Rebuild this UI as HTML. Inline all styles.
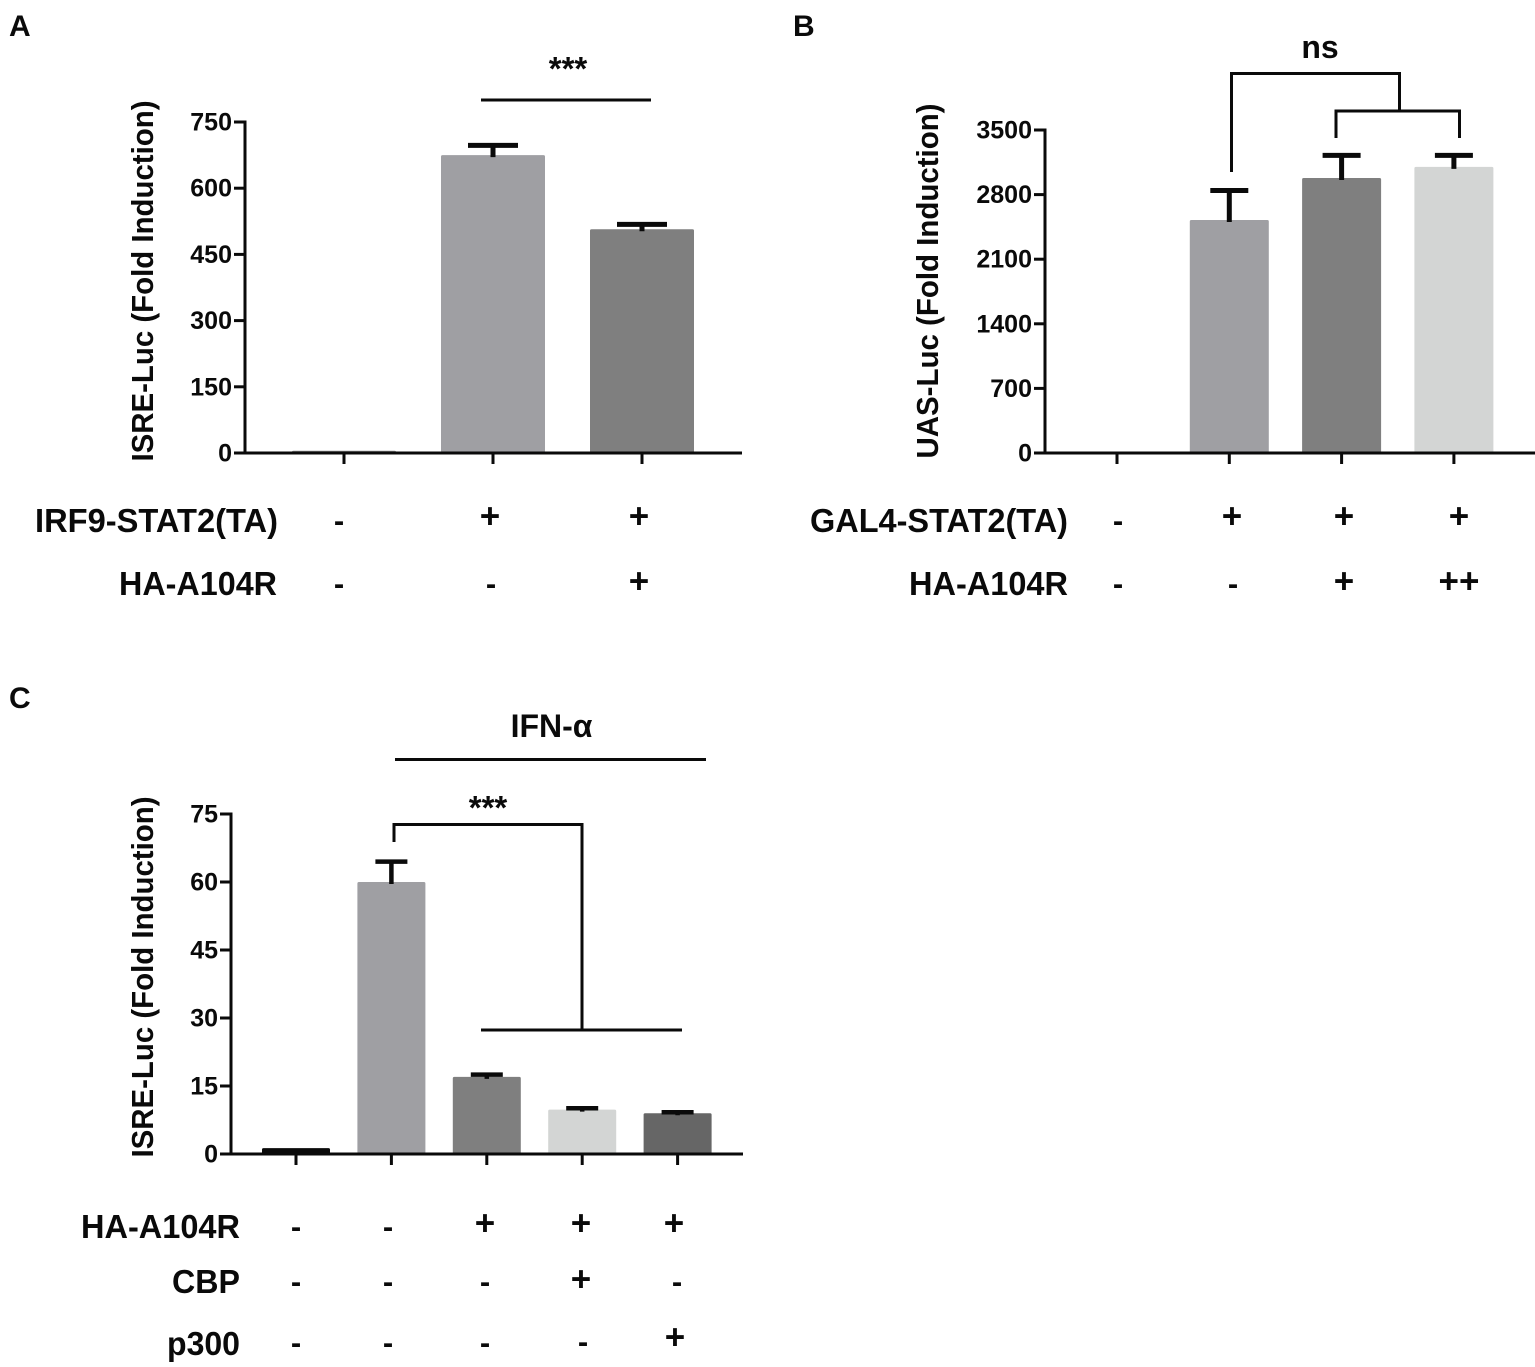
<!DOCTYPE html>
<html lang="en">
<head>
<meta charset="utf-8">
<title>Luciferase reporter bar charts</title>
<style>
html,body{margin:0;padding:0;background:#fff;width:1535px;height:1367px;overflow:hidden}
svg{display:block}
text{font-family:"Liberation Sans",sans-serif;font-weight:bold;fill:#0a0a0a}
</style>
</head>
<body>
<svg id="fig" xmlns="http://www.w3.org/2000/svg" width="1535" height="1367" viewBox="0 0 1535 1367">
<rect width="1535" height="1367" fill="#fff"/>
<text x="9" y="36" font-size="30">A</text>
<text x="793" y="36" font-size="30">B</text>
<text x="9" y="708" font-size="30">C</text>

<g fill="none" stroke="#0a0a0a" stroke-width="3">
<path d="M481 100H651"/>
</g>
<text x="568" y="80" font-size="33" text-anchor="middle">***</text>

<g fill="none" stroke="#0a0a0a" stroke-width="3">
<path d="M1231.5 172V73.5H1399.5V111"/>
<path d="M1336 138V111H1459.5V138"/>
</g>
<text x="1320" y="58" font-size="32" text-anchor="middle">ns</text>

<g fill="none" stroke="#0a0a0a" stroke-width="3">
<path d="M395 759.5H706"/>
<path d="M394 842V824.5H582V1030"/>
<path d="M481 1030H682"/>
</g>
<text x="551.5" y="737" font-size="32" text-anchor="middle">IFN-α</text>
<text x="488" y="819" font-size="33" text-anchor="middle">***</text>

<g font-size="33">
<text x="278" y="532" text-anchor="end" textLength="243" lengthAdjust="spacingAndGlyphs">IRF9-STAT2(TA)</text>
<text x="277" y="595" text-anchor="end" textLength="158" lengthAdjust="spacingAndGlyphs">HA-A104R</text>
<text x="339" y="531" text-anchor="middle" font-size="31">-</text><text x="490" y="528" text-anchor="middle" font-size="35">+</text><text x="639" y="528" text-anchor="middle" font-size="35">+</text>
<text x="339" y="594" text-anchor="middle" font-size="31">-</text><text x="491" y="594" text-anchor="middle" font-size="31">-</text><text x="639" y="593" text-anchor="middle" font-size="35">+</text>
</g>

<g font-size="33">
<text x="1068" y="532" text-anchor="end" textLength="258" lengthAdjust="spacingAndGlyphs">GAL4-STAT2(TA)</text>
<text x="1068" y="595" text-anchor="end" textLength="159" lengthAdjust="spacingAndGlyphs">HA-A104R</text>
<text x="1118" y="531" text-anchor="middle" font-size="31">-</text><text x="1232" y="528" text-anchor="middle" font-size="35">+</text><text x="1344" y="528" text-anchor="middle" font-size="35">+</text><text x="1459" y="528" text-anchor="middle" font-size="35">+</text>
<text x="1118" y="594" text-anchor="middle" font-size="31">-</text><text x="1233" y="594" text-anchor="middle" font-size="31">-</text><text x="1344" y="593" text-anchor="middle" font-size="35">+</text><text x="1459" y="593" text-anchor="middle" font-size="35">++</text>
</g>

<g font-size="33">
<text x="240" y="1238" text-anchor="end" textLength="159" lengthAdjust="spacingAndGlyphs">HA-A104R</text>
<text x="240" y="1293" text-anchor="end" textLength="68" lengthAdjust="spacingAndGlyphs">CBP</text>
<text x="240" y="1355" text-anchor="end" textLength="73" lengthAdjust="spacingAndGlyphs">p300</text>
<text x="296" y="1237" text-anchor="middle" font-size="31">-</text><text x="388" y="1237" text-anchor="middle" font-size="31">-</text><text x="485" y="1235" text-anchor="middle" font-size="35">+</text><text x="581" y="1235" text-anchor="middle" font-size="35">+</text><text x="674" y="1235" text-anchor="middle" font-size="35">+</text>
<text x="296" y="1292" text-anchor="middle" font-size="31">-</text><text x="388" y="1292" text-anchor="middle" font-size="31">-</text><text x="485" y="1292" text-anchor="middle" font-size="31">-</text><text x="581" y="1291" text-anchor="middle" font-size="35">+</text><text x="677" y="1292" text-anchor="middle" font-size="31">-</text>
<text x="296" y="1353" text-anchor="middle" font-size="31">-</text><text x="388" y="1353" text-anchor="middle" font-size="31">-</text><text x="485" y="1353" text-anchor="middle" font-size="31">-</text><text x="583" y="1352" text-anchor="middle" font-size="31">-</text><text x="675" y="1349" text-anchor="middle" font-size="35">+</text>
</g>
</svg>
<script>
// Panel A data
const aCategories = ['ctrl', 'irf9-stat2', 'irf9-stat2-a104r'];
const aValues = [5, 675, 507];
const aErrors = [0, 22, 11];
const aTicks = [0, 150, 300, 450, 600, 750];
// Panel B data
const bCategories = ['ctrl', 'gal4-stat2', 'gal4-stat2-a104r', 'gal4-stat2-a104r-high'];
const bValues = [0, 2525, 2980, 3100];
const bErrors = [0, 320, 245, 125];
const bTicks = [0, 700, 1400, 2100, 2800, 3500];
// Panel C data
const cCategories = ['ctrl', 'ifn', 'ifn-a104r', 'ifn-a104r-cbp', 'ifn-a104r-p300'];
const cValues = [1.3, 60, 17, 9.8, 9];
const cErrors = [0, 4.5, 0.5, 0.3, 0.2];
const cTicks = [0, 15, 30, 45, 60, 75];
const aColors = ['#8a8a8a', '#9f9fa3', '#7f7f7f'];
const bColors = ['#9f9fa3', '#9f9fa3', '#7f7f7f', '#d3d5d4'];
const cColors = ['#0a0a0a', '#9f9fa3', '#7f7f7f', '#d3d5d4', '#666666'];

const NS = 'http://www.w3.org/2000/svg';
const fig = document.getElementById('fig');

function make(tag, attrs, parent) {
  const el = document.createElementNS(NS, tag);
  for (const k in attrs) el.setAttribute(k, attrs[k]);
  parent.appendChild(el);
  return el;
}

function drawPanel(p) {
  const g = make('g', {}, fig);
  
  
  const yMax = p.ticks[p.ticks.length - 1];
  const yScale = v => p.y0 - (v / yMax) * (p.y0 - p.y1);
  const xScale = i => p.xFirst + i * p.xStep;

  // bars
  p.categories.forEach((c, i) => {
    if (p.values[i] <= 0) return;
    const top = yScale(p.values[i]);
    const bar = make('rect', {
      x: xScale(i) - p.barW / 2, y: top, width: p.barW,
      height: Math.max(p.y0 - top, 0), rx: 1.5, fill: p.colors[i]
    }, g);
    
    
  });

  // error bars
  p.categories.forEach((c, i) => {
    if (p.errors[i] <= 0) return;
    const cx = xScale(i);
    const top = yScale(p.values[i] + p.errors[i]);
    const base = yScale(p.values[i]);
    const err = make('path', {
      d: 'M' + (cx - p.capW / 2) + ' ' + top + 'H' + (cx + p.capW / 2) +
         'M' + cx + ' ' + top + 'V' + (base + 2),
      stroke: '#0a0a0a', 'stroke-width': p.errW, fill: 'none'
    }, g);
    
    
  });

  // y axis
  const yAxis = make('line', {
    x1: p.x0, x2: p.x0, y1: yScale(yMax) - 1.5, y2: p.y0 + 1.5,
    stroke: '#0a0a0a', 'stroke-width': 3
  }, g);
  
  

  // x axis
  const xAxis = make('line', {
    x1: p.x0, x2: p.xEnd, y1: p.y0, y2: p.y0,
    stroke: '#0a0a0a', 'stroke-width': 3
  }, g);
  
  

  // y ticks and labels
  p.ticks.forEach(t => {
    const y = yScale(t);
    const tick = make('line', {
      x1: p.x0 - 11, x2: p.x0, y1: y, y2: y,
      stroke: '#0a0a0a', 'stroke-width': 3
    }, g);
    
    
    const label = make('text', {
      x: p.x0 - 13, y: y + 8.5, 'text-anchor': 'end', 'font-size': p.tickFont
    }, g);
    label.textContent = t;
    
    
  });

  // x ticks
  p.categories.forEach((c, i) => {
    const x = xScale(i);
    const tick = make('line', {
      x1: x, x2: x, y1: p.y0, y2: p.y0 + 11,
      stroke: '#0a0a0a', 'stroke-width': 3
    }, g);
    
    
  });

  // y title
  const title = make('text', {
    transform: 'translate(' + p.titleX + ' ' + p.titleY + ') rotate(-90)',
    'text-anchor': 'middle', 'font-size': p.titleFont,
    textLength: p.titleLen, lengthAdjust: 'spacingAndGlyphs'
  }, g);
  title.textContent = p.title;
  
  
}

drawPanel({
  id: 'a', categories: aCategories, values: aValues, errors: aErrors, ticks: aTicks, colors: aColors,
  x0: 245, xEnd: 742, y0: 453, y1: 122, xFirst: 344, xStep: 149, barW: 104, capW: 50, errW: 5,
  tickFont: 25, title: 'ISRE-Luc (Fold Induction)', titleX: 153, titleY: 281, titleLen: 361, titleFont: 31
});
drawPanel({
  id: 'b', categories: bCategories, values: bValues, errors: bErrors, ticks: bTicks, colors: bColors,
  x0: 1045, xEnd: 1535, y0: 453, y1: 130, xFirst: 1117, xStep: 112.3, barW: 79, capW: 38, errW: 5,
  tickFont: 25, title: 'UAS-Luc (Fold Induction)', titleX: 938, titleY: 281, titleLen: 355, titleFont: 31
});
drawPanel({
  id: 'c', categories: cCategories, values: cValues, errors: cErrors, ticks: cTicks, colors: cColors,
  x0: 231, xEnd: 743, y0: 1154, y1: 814, xFirst: 296, xStep: 95.4, barW: 68, capW: 32, errW: 4.5,
  tickFont: 25, title: 'ISRE-Luc (Fold Induction)', titleX: 153, titleY: 977, titleLen: 361, titleFont: 31
});
</script>
</body>
</html>
